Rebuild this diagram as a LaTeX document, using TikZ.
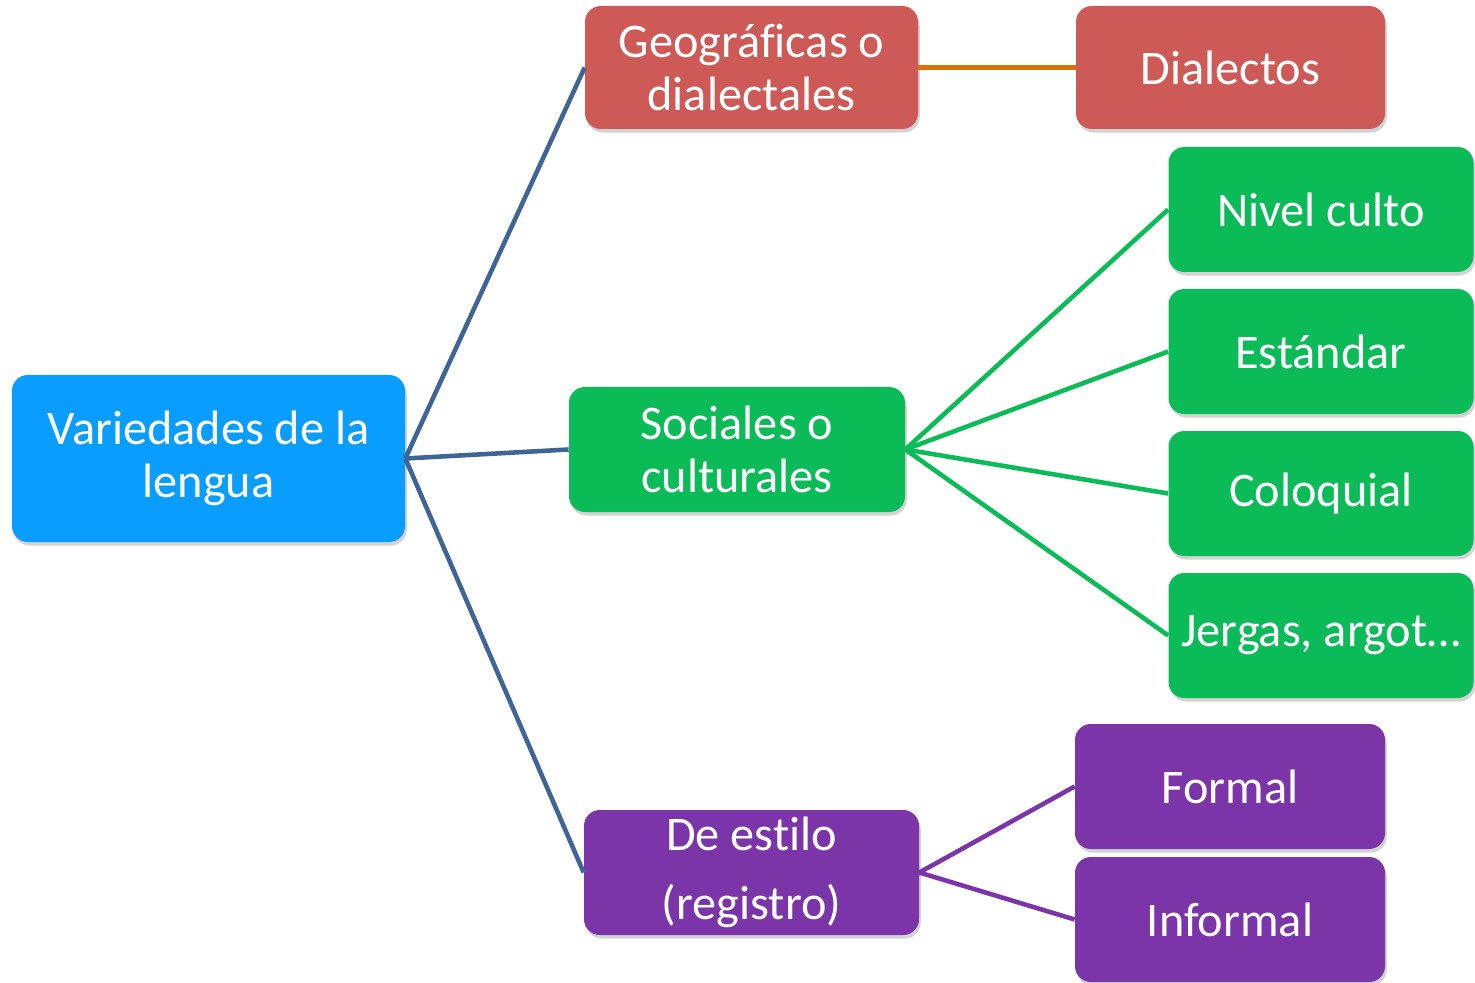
\documentclass[tikz,border=0pt]{standalone}
\usepackage{fontspec}
\setmainfont[Ligatures=NoCommon]{Carlito}
\usepackage{tikz}
\usetikzlibrary{positioning,shadows}
\definecolor{c_root}{RGB}{8,157,255}
\definecolor{c_geo}{RGB}{205,90,87}
\definecolor{c_soc}{RGB}{10,187,88}
\definecolor{c_est}{RGB}{123,53,168}
\definecolor{c_link}{RGB}{63,100,150}
\definecolor{c_orange}{RGB}{227,108,10}
\tikzset{c-box/.style={rectangle, rounded corners=9pt, text=white, align=center,
  font=\fontsize{27.5}{30.5}\selectfont, inner sep=0pt,
  drop shadow={shadow xshift=1pt, shadow yshift=-2pt, opacity=0.35}},
link/.style={line width=2.6pt}}

\begin{document}
\begin{tikzpicture}[x=0.02cm, y=-0.02cm]
\useasboundingbox (0,0) rectangle (1475,983);
\node (root) [c-box, fill=c_root, minimum width=393*0.02cm, minimum height=167*0.02cm] at (208.5,458.5) {Variedades de la\\lengua};
\node (geo) [c-box, fill=c_geo, minimum width=333*0.02cm, minimum height=123*0.02cm] at (751.5,67.5) {Geográficas o\\dialectales};
\node (dial) [c-box, fill=c_geo, minimum width=309*0.02cm, minimum height=123*0.02cm] at (1230.5,67.5) {Dialectos};
\node (soc) [c-box, fill=c_soc, minimum width=336*0.02cm, minimum height=125*0.02cm] at (737,449.5) {Sociales o\\culturales};
\node (culto) [c-box, fill=c_soc, minimum width=305*0.02cm, minimum height=125*0.02cm] at (1321,209.5) {Nivel culto};
\node (estand) [c-box, fill=c_soc, minimum width=305*0.02cm, minimum height=125*0.02cm] at (1321,351.5) {Estándar};
\node (coloq) [c-box, fill=c_soc, minimum width=305*0.02cm, minimum height=125*0.02cm] at (1321,493.5) {Coloquial};
\node (jerga) [c-box, fill=c_soc, minimum width=305*0.02cm, minimum height=125*0.02cm] at (1321,635.5) {Jergas, argot…};
\node (estilo) [c-box, fill=c_est, minimum width=335*0.02cm, minimum height=125*0.02cm, font=\fontsize{27.5}{39}\selectfont] at (751.5,872.5) {De estilo\\(registro)};
\node (formal) [c-box, fill=c_est, minimum width=310*0.02cm, minimum height=125*0.02cm] at (1230,786.5) {Formal};
\node (inform) [c-box, fill=c_est, minimum width=310*0.02cm, minimum height=125*0.02cm] at (1230,919.5) {Informal};
% connectors
\draw [link, c_link] (root.east) -- (geo.west);
\draw [link, c_link] (root.east) -- (soc.west);
\draw [link, c_link] (root.east) -- (estilo.west);
\draw [link, c_orange] (geo.east) -- (dial.west);
\foreach \n in {culto,estand,coloq,jerga}
  \draw [link, c_soc] (soc.east) -- (\n.west);
\draw [link, c_est] (estilo.east) -- (formal.west);
\draw [link, c_est] (estilo.east) -- (inform.west);
\end{tikzpicture}
\end{document}
